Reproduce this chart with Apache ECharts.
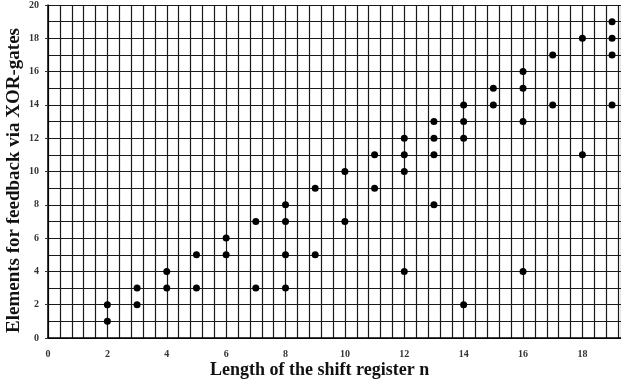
<!DOCTYPE html>
<html>
<head>
<meta charset="utf-8">
<script src="https://cdn.jsdelivr.net/npm/echarts@6/dist/echarts.min.js"></script>
<style>
  html, body { margin: 0; padding: 0; background: #fff; }
  #chart { width: 621px; height: 387px; }
</style>
</head>
<body>
<div id="chart"></div>
<script>
// shift register length n and number of feedback elements
const lengths = [2, 2, 3, 3, 4, 4, 5, 5, 6, 6, 7, 7, 8, 8, 8, 8, 9, 9, 10, 10, 11, 11,
  12, 12, 12, 12, 13, 13, 13, 13, 14, 14, 14, 14, 15, 15, 16, 16, 16, 16, 17, 17, 18, 18,
  19, 19, 19, 19]
const elements = [1, 2, 2, 3, 3, 4, 3, 5, 5, 6, 3, 7, 3, 5, 7, 8, 5, 9, 7, 10, 9, 11,
  4, 10, 11, 12, 8, 11, 12, 13, 2, 12, 13, 14, 14, 15, 4, 13, 15, 16, 14, 17, 11, 18,
  14, 17, 18, 19]
const xTitle = 'Length of the shift register n'
const yTitle = 'Elements for feedback via XOR-gates'

const chart = echarts.init(document.getElementById('chart'))
const serif = '"Liberation Serif", "DejaVu Serif", serif'
const gridLine = { show: true, lineStyle: { color: '#1a1a1a', width: 1.2 } }

chart.setOption({
  animation: false,
  backgroundColor: '#fff',
  grid: { left: 48, right: 0, top: 2, bottom: 49 },
  xAxis: {
    type: 'value',
    min: 0,
    max: 19.3,
    interval: 2,
    axisLine: { show: true, lineStyle: { color: '#000', width: 1.5 } },
    axisTick: { show: false },
    axisLabel: {
      color: '#333', fontFamily: serif, fontWeight: 'bold', fontSize: 10, margin: 11,
      showMaxLabel: false,
    },
    splitLine: gridLine,
    minorTick: { show: false, splitNumber: 5 },
    minorSplitLine: { show: true, lineStyle: { color: '#1a1a1a', width: 1.2 } },
  },
  yAxis: {
    type: 'value',
    min: 0,
    max: 20,
    interval: 2,
    axisLine: { show: true, lineStyle: { color: '#000', width: 1.5 } },
    axisTick: { show: true, length: 3, lineStyle: { color: '#333' } },
    axisLabel: { color: '#333', fontFamily: serif, fontWeight: 'bold', fontSize: 10, margin: 9 },
    splitLine: gridLine,
    minorTick: { show: false, splitNumber: 2 },
    minorSplitLine: { show: true, lineStyle: { color: '#1a1a1a', width: 1.2 } },
  },
  graphic: [
    {
      type: 'text',
      left: 210,
      top: 361,
      style: { text: xTitle, fill: '#111', font: 'bold 18px ' + serif },
    },
    {
      type: 'text',
      x: 5,
      y: 333,
      rotation: Math.PI / 2,
      style: { text: yTitle, fill: '#111', font: 'bold 19px ' + serif, verticalAlign: 'top' },
    },
  ],
  series: [
    {
      type: 'scatter',
      symbolSize: 7,
      itemStyle: { color: '#000', opacity: 1 },
      data: lengths.map((n, i) => [n, elements[i]]),
    },
  ],
})
</script>
</body>
</html>
